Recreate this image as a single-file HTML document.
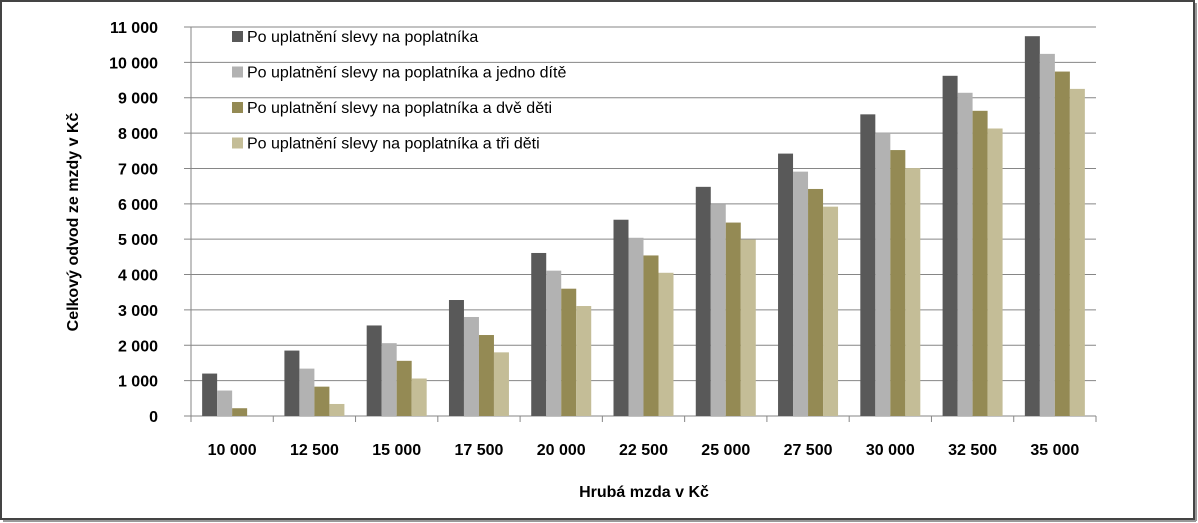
<!DOCTYPE html>
<html><head><meta charset="utf-8"><style>
html,body{margin:0;padding:0;background:#fff}
svg{display:block;font-family:"Liberation Sans",sans-serif}
</style></head><body>
<svg width="1198" height="523">
<rect x="1" y="1" width="1193" height="518" fill="#fff" stroke="#444" stroke-width="2"/>
<line x1="3" y1="521" x2="1196" y2="521" stroke="#999" stroke-width="2"/>
<line x1="1196" y1="3" x2="1196" y2="521" stroke="#999" stroke-width="2"/>
<g id="grid"></g><g id="bars"></g><g id="axes"></g>
<text x="0" y="0" transform="translate(78,222) rotate(-90)" text-anchor="middle" font-size="16" font-weight="bold">Celkový odvod ze mzdy v Kč</text>
<text x="644" y="497" text-anchor="middle" font-size="16" font-weight="bold">Hrubá mzda v Kč</text>
<g id="legend"></g>
</svg>
<script>
const categories=["10 000","12 500","15 000","17 500","20 000","22 500","25 000","27 500","30 000","32 500","35 000"];
const s1=[1200,1850,2560,3280,4610,5550,6480,7420,8530,9620,10740];
const s2=[720,1340,2060,2800,4110,5040,5980,6910,8000,9140,10240];
const s3=[220,830,1560,2290,3600,4540,5470,6420,7520,8630,9740];
const s4=[0,340,1060,1800,3110,4050,4990,5920,7010,8130,9250];
const seriesNames=["Po uplatnění slevy na poplatníka","Po uplatnění slevy na poplatníka a jedno dítě","Po uplatnění slevy na poplatníka a dvě děti","Po uplatnění slevy na poplatníka a tři děti"];
const yTicks=[0,1000,2000,3000,4000,5000,6000,7000,8000,9000,10000,11000];
const yTickLabels=["0","1 000","2 000","3 000","4 000","5 000","6 000","7 000","8 000","9 000","10 000","11 000"];
const colors=["#595959","#b2b2b2","#948a54","#c4bd97"];
const NS="http://www.w3.org/2000/svg";
const X0=191,X1=1096,Y0=416,YT=27,YMAX=11000;
const bw=(X1-X0)/categories.length;
const y=v=>Y0-(v/YMAX)*(Y0-YT);
function mk(t,a,p){const e=document.createElementNS(NS,t);for(const k in a)e.setAttribute(k,a[k]);p.appendChild(e);return e;}
const grid=document.getElementById('grid'),axes=document.getElementById('axes'),bars=document.getElementById('bars'),leg=document.getElementById('legend');
yTicks.forEach((v,i)=>{
 const l=mk('line',{x1:184,x2:X1,y1:y(v),y2:y(v),stroke:'#868686','stroke-width':1},grid);
 
 
 const t=mk('text',{x:158,y:y(v)+6,'text-anchor':'end','font-size':16,'font-weight':'bold'},axes);
 t.textContent=yTickLabels[i];
 
 
});
mk('line',{x1:X0,x2:X0,y1:YT,y2:Y0,stroke:'#868686'},axes);
for(let i=0;i<=categories.length;i++){const x=X0+i*bw;mk('line',{x1:x,x2:x,y1:Y0,y2:Y0+6,stroke:'#868686'},axes);}
const all=[s1,s2,s3,s4];
const barW=15,grpOff=(bw-4*barW)/2;
categories.forEach((c,i)=>{
 all.forEach((s,j)=>{
  const r=mk('rect',{x:X0+i*bw+grpOff+j*barW,y:y(s[i]),width:barW,height:Y0-y(s[i]),fill:colors[j]},bars);
  
  
 });
 const t=mk('text',{x:X0+(i+0.5)*bw,y:455,'text-anchor':'middle','font-size':16,'font-weight':'bold'},axes);
 t.textContent=c;
 
 
});
seriesNames.forEach((n,j)=>{
 const g=mk('g',{},leg);
 
 
 const yy=37+j*35.5;
 mk('rect',{x:232,y:yy-6,width:11,height:11,fill:colors[j]},g);
 const t=mk('text',{x:247,y:yy+5,'font-size':16},g);
 t.textContent=n;
});
</script>
</body></html>
